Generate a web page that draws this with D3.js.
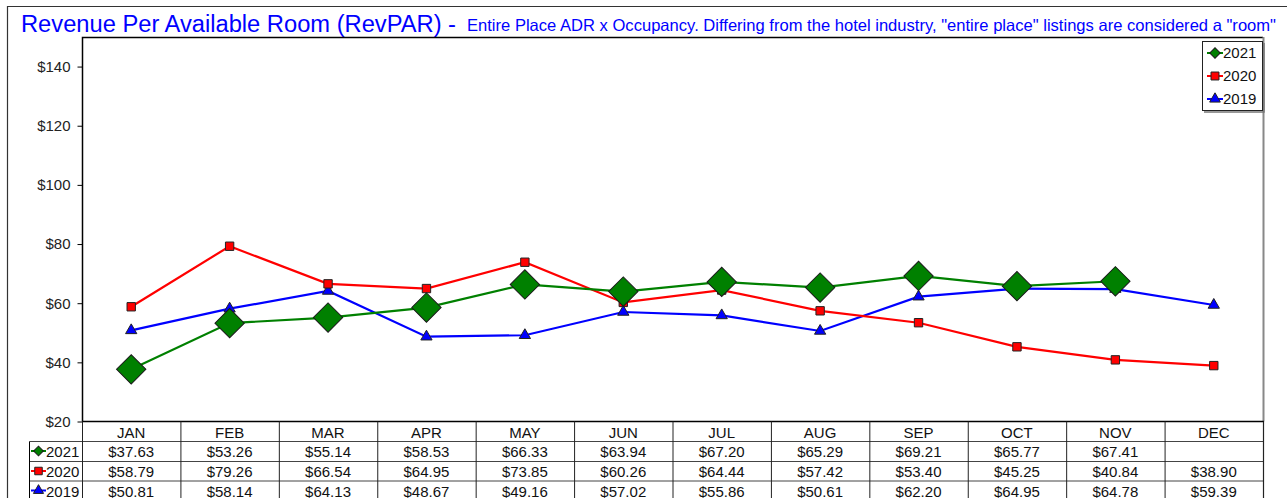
<!DOCTYPE html>
<html>
<head>
<meta charset="utf-8">
<script src="https://cdn.jsdelivr.net/npm/d3@7/dist/d3.min.js"></script>
<style>
  html, body { margin: 0; padding: 0; background: #fff; }
  svg { display: block; font-family: "Liberation Sans", Arial, sans-serif; }
</style>
</head>
<body>
<div id="chart"></div>
<script>
const months = ['JAN', 'FEB', 'MAR', 'APR', 'MAY', 'JUN', 'JUL', 'AUG', 'SEP', 'OCT', 'NOV', 'DEC'];
const rev2021 = [37.63, 53.26, 55.14, 58.53, 66.33, 63.94, 67.20, 65.29, 69.21, 65.77, 67.41, null];
const rev2020 = [58.79, 79.26, 66.54, 64.95, 73.85, 60.26, 64.44, 57.42, 53.40, 45.25, 40.84, 38.90];
const rev2019 = [50.81, 58.14, 64.13, 48.67, 49.16, 57.02, 55.86, 50.61, 62.20, 64.95, 64.78, 59.39];
const yTicks = [20, 40, 60, 80, 100, 120, 140];

const series = [
  { name: '2021', values: rev2021, color: '#008000', shape: 'diamond' },
  { name: '2020', values: rev2020, color: '#ff0000', shape: 'square' },
  { name: '2019', values: rev2019, color: '#0000ff', shape: 'triangle' }
];

const W = 1287, H = 498;
const plot = { left: 82, right: 1263, top: 37, bottom: 421.5 };
const fs = '15px';

const svg = d3.select('#chart').append('svg')
  .attr('width', W).attr('height', H);

// outer frame
svg.append('path')
  .attr('d', `M7.5,${H} V6.5 H${W}`)
  .attr('fill', 'none').attr('stroke', '#333').attr('stroke-width', 1.2);

// title
svg.append('text')
  .attr('x', 21).attr('y', 32)
  .attr('fill', '#0000ff').attr('font-size', '23px')
  .attr('textLength', 435).attr('lengthAdjust', 'spacingAndGlyphs')
  .text('Revenue Per Available Room (RevPAR) -');
svg.append('text')
  .attr('x', 467).attr('y', 31)
  .attr('fill', '#0000ff').attr('font-size', '16.5px')
  .attr('textLength', 809).attr('lengthAdjust', 'spacingAndGlyphs')
  .text('Entire Place ADR x Occupancy. Differing from the hotel industry, "entire place" listings are considered a "room"');

// scales
const x = d3.scaleBand().domain(months).range([plot.left, plot.right]);
const y = d3.scaleLinear().domain([20, 150]).range([plot.bottom, plot.top]);
const cx = m => x(m) + x.bandwidth() / 2;

// plot frame
svg.append('path')
  .attr('d', `M${plot.left + 0.5},${plot.bottom} V${plot.top + 0.5} H${plot.right}`)
  .attr('fill', 'none').attr('stroke', '#000').attr('stroke-width', 1.5);
svg.append('line')
  .attr('x1', plot.right + 0.5).attr('x2', plot.right + 0.5)
  .attr('y1', plot.top).attr('y2', plot.bottom)
  .attr('stroke', '#888').attr('stroke-width', 2);

// y axis
const yAxis = d3.axisLeft(y).tickValues(yTicks)
  .tickFormat(d => '$' + d).tickSize(5).tickPadding(7);
const yg = svg.append('g')
  .attr('transform', `translate(${plot.left + 0.5},0)`)
  .call(yAxis);
yg.select('.domain').remove();
yg.selectAll('line').attr('stroke', '#000');
yg.selectAll('text').attr('font-size', fs).attr('fill', '#222')
  .attr('font-family', '"Liberation Sans", Arial, sans-serif');

// marker shapes
function drawMarker(g, shape, color, px, py, scale = 1) {
  const sym = shape === 'diamond'
    ? d3.symbol().type(d3.symbolSquare).size(430 * scale * scale)
    : d3.symbol().type(shape === 'square' ? d3.symbolSquare : d3.symbolTriangle)
        .size((shape === 'square' ? 70 : 55) * scale * scale);
  g.append('path')
    .attr('d', sym())
    .attr('transform', `translate(${px},${py})` + (shape === 'diamond' ? ' rotate(45)' : ''))
    .attr('fill', color)
    .attr('stroke', shape === 'diamond' ? '#1a1a1a' : '#222')
    .attr('stroke-width', 1);
}

// lines and markers, drawn bottom to top: 2019, 2020, 2021
const line = d3.line()
  .defined(d => d.v != null)
  .x(d => cx(d.m))
  .y(d => y(d.v));

[...series].reverse().forEach(s => {
  const pts = months.map((m, i) => ({ m, v: s.values[i] }));
  svg.append('path')
    .datum(pts)
    .attr('fill', 'none')
    .attr('stroke', s.color)
    .attr('stroke-width', 2.2)
    .attr('d', line);
});
const mg = svg.append('g');
[...series].reverse().forEach(s => {
  months.forEach((m, i) => {
    if (s.values[i] != null) drawMarker(mg, s.shape, s.color, cx(m), y(s.values[i]));
  });
});

// legend
const lg = svg.append('g');
lg.append('rect')
  .attr('x', 1202.5).attr('y', 41.5).attr('width', 60).attr('height', 69)
  .attr('fill', '#fff').attr('stroke', '#222').attr('stroke-width', 1);
lg.append('path')
  .attr('d', 'M1264,43 V112 H1204')
  .attr('fill', 'none').attr('stroke', '#777').attr('stroke-width', 1.5);
series.forEach((s, i) => {
  const ly = 53 + i * 23;
  lg.append('line').attr('x1', 1207).attr('x2', 1223).attr('y1', ly).attr('y2', ly)
    .attr('stroke', s.color).attr('stroke-width', 2);
  drawMarker(lg, s.shape, s.color, 1215, ly, s.shape === 'diamond' ? 0.36 : 0.95);
  lg.append('text').attr('x', 1223).attr('y', ly + 5)
    .attr('font-size', fs).attr('fill', '#111').text(s.name);
});

// data table
const rowTop = [421.5, 441.5, 461.5, 481, 500.5];
const tg = svg.append('g');
const tableLeft = 29.5;
months.forEach(m => {
  tg.append('text').attr('x', cx(m)).attr('y', rowTop[0] + 16)
    .attr('text-anchor', 'middle').attr('font-size', fs).attr('fill', '#111').text(m);
});
series.forEach((s, r) => {
  const top = rowTop[r + 1];
  months.forEach((m, i) => {
    if (s.values[i] == null) return;
    tg.append('text').attr('x', cx(m)).attr('y', top + 15.5)
      .attr('text-anchor', 'middle').attr('font-size', fs).attr('fill', '#111')
      .text('$' + s.values[i].toFixed(2));
  });
  const ly = top + 9.5;
  tg.append('line').attr('x1', 31).attr('x2', 46).attr('y1', ly).attr('y2', ly)
    .attr('stroke', s.color).attr('stroke-width', 2);
  drawMarker(tg, s.shape, s.color, 38.5, ly, s.shape === 'diamond' ? 0.33 : 0.9);
  tg.append('text').attr('x', 46).attr('y', top + 15.5)
    .attr('font-size', fs).attr('fill', '#111').text(s.name);
});
rowTop.slice(1, 4).forEach(ty => {
  tg.append('line').attr('x1', tableLeft).attr('x2', plot.right)
    .attr('y1', ty).attr('y2', ty).attr('stroke', '#444').attr('stroke-width', 1);
});
tg.append('line').attr('x1', plot.left).attr('x2', plot.right + 1)
  .attr('y1', plot.bottom).attr('y2', plot.bottom).attr('stroke', '#000').attr('stroke-width', 1.5);
tg.append('line').attr('x1', tableLeft).attr('x2', tableLeft)
  .attr('y1', rowTop[1]).attr('y2', H).attr('stroke', '#000').attr('stroke-width', 1);
months.forEach(m => {
  tg.append('line').attr('x1', x(m) + 0.5).attr('x2', x(m) + 0.5)
    .attr('y1', plot.bottom).attr('y2', H).attr('stroke', '#222').attr('stroke-width', 1);
});
tg.append('line').attr('x1', plot.right + 0.5).attr('x2', plot.right + 0.5)
  .attr('y1', plot.bottom).attr('y2', H).attr('stroke', '#222').attr('stroke-width', 1.2);
</script>
</body>
</html>
